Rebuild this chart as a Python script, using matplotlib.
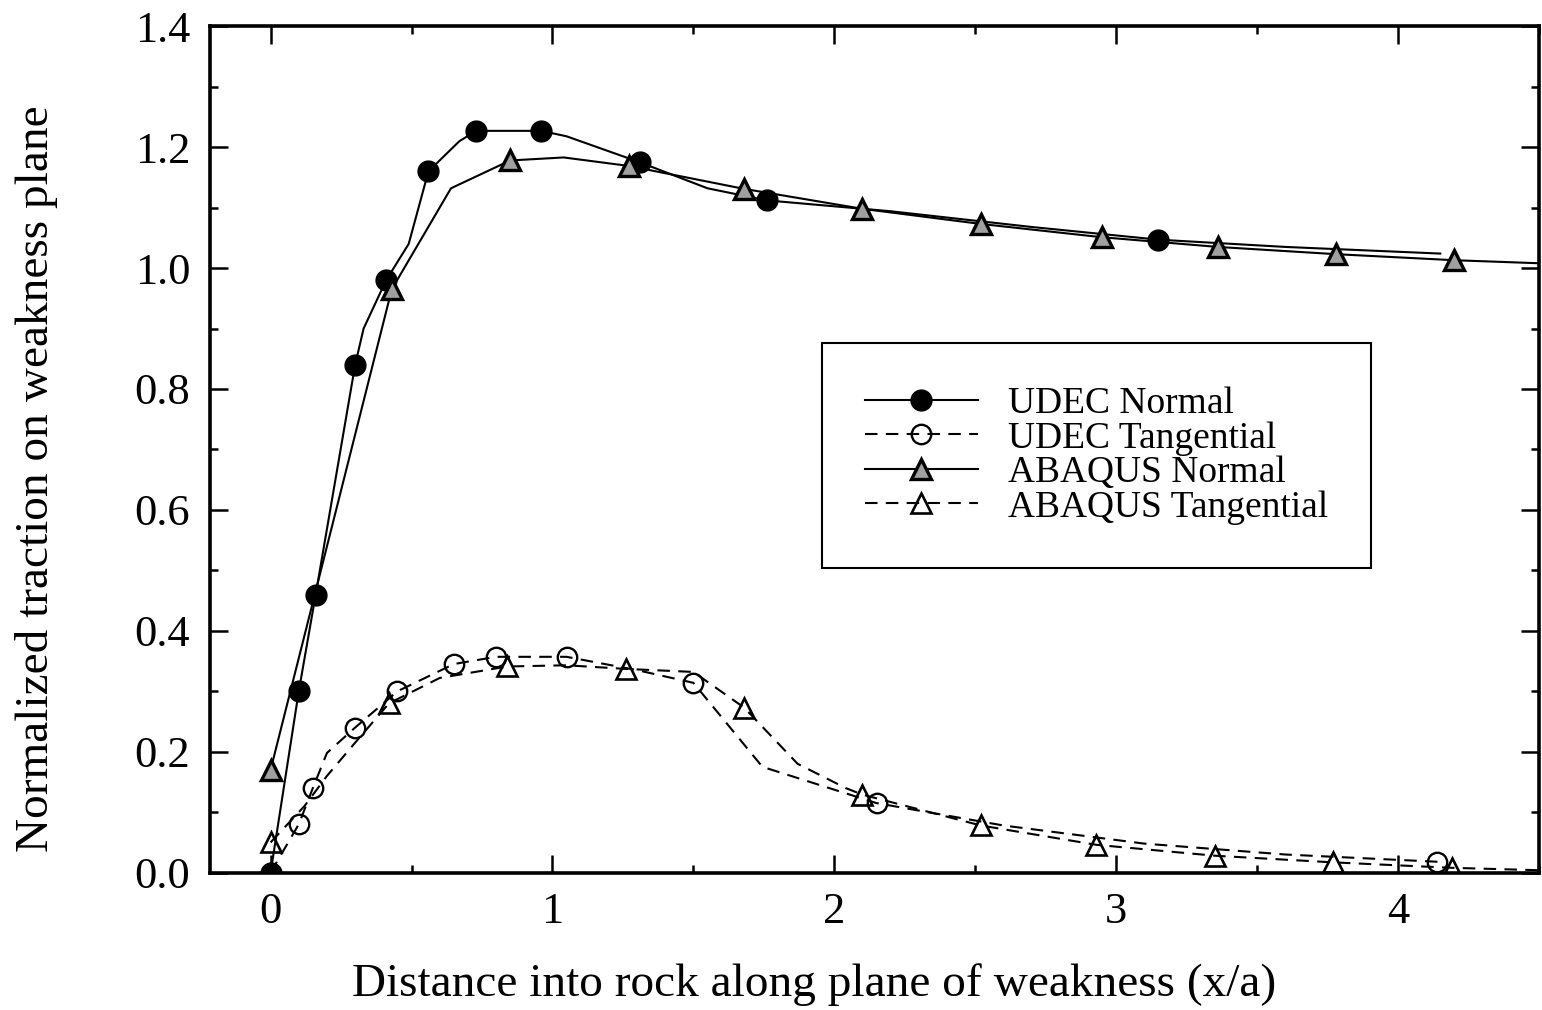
import numpy as np
import matplotlib
matplotlib.use("Agg")
import matplotlib.pyplot as plt
from matplotlib.ticker import MultipleLocator, FormatStrFormatter

plt.rcParams['font.family'] = ['Liberation Serif', 'DejaVu Serif']

# ---- traction profiles along the weakness plane (x/a, normalized traction) ----
# line vertices; the *_marks lists pick which vertices carry a symbol
udec_normal_x = [0.0, 0.10, 0.16, 0.30, 0.33, 0.41, 0.49, 0.56, 0.67, 0.73, 0.96, 1.05,
                 1.31, 1.55, 1.76, 2.20, 2.70, 3.15, 3.60, 4.15]
udec_normal_y = [0.0, 0.30, 0.46, 0.84, 0.90, 0.98, 1.04, 1.16, 1.21, 1.227, 1.227, 1.218,
                 1.175, 1.132, 1.112, 1.094, 1.068, 1.047, 1.035, 1.024]
udec_normal_marks = [0, 1, 2, 3, 5, 7, 9, 10, 12, 14, 17]

udec_tang_x = [0.0, 0.10, 0.15, 0.20, 0.30, 0.45, 0.65, 0.80, 1.05, 1.30, 1.50, 1.745,
               2.15, 2.60, 3.10, 3.60, 4.14]
udec_tang_y = [0.0, 0.08, 0.14, 0.198, 0.24, 0.30, 0.345, 0.357, 0.357, 0.335, 0.314, 0.175,
               0.115, 0.078, 0.048, 0.030, 0.018]
udec_tang_marks = [0, 1, 2, 4, 5, 6, 7, 8, 10, 12, 16]

abaqus_normal_x = [0.0, 0.43, 0.64, 0.85, 1.04, 1.27, 1.68, 2.10, 2.52, 2.95, 3.36, 3.78,
                   4.20, 4.50]
abaqus_normal_y = [0.17, 0.965, 1.132, 1.178, 1.183, 1.169, 1.131, 1.098, 1.073, 1.051,
                   1.035, 1.023, 1.013, 1.008]
abaqus_normal_marks = [0, 1, 3, 5, 6, 7, 8, 9, 10, 11, 12]

abaqus_tang_x = [0.0, 0.12, 0.20, 0.30, 0.42, 0.60, 0.84, 1.05, 1.26, 1.50, 1.68, 1.87,
                 2.04, 2.10, 2.52, 2.93, 3.35, 3.77, 4.19, 4.50]
abaqus_tang_y = [0.05, 0.11, 0.16, 0.215, 0.28, 0.322, 0.341, 0.343, 0.337, 0.332, 0.273,
                 0.180, 0.140, 0.129, 0.078, 0.046, 0.028, 0.017, 0.008, 0.004]
abaqus_tang_marks = [0, 4, 6, 8, 10, 13, 14, 15, 16, 17, 18]

x_label = "Distance into rock along plane of weakness (x/a)"
y_label = "Normalized traction on weakness plane"


def main():
    fig = plt.figure(figsize=(15.42, 10.10), dpi=100)
    ax = fig.add_axes([0.136, 0.136, 0.862, 0.838])

    dash = (0, (6, 4))
    lw = 1.5

    ax.plot(udec_normal_x, udec_normal_y, color='black', lw=lw, marker='o',
            markevery=udec_normal_marks, ms=15, mfc='black', mec='black',
            label='UDEC Normal', zorder=4)
    ax.plot(udec_tang_x, udec_tang_y, color='black', lw=lw, ls=dash, marker='o',
            markevery=udec_tang_marks, ms=14, mfc='none', mec='black', mew=1.7,
            label='UDEC Tangential', zorder=3)
    ax.plot(abaqus_normal_x, abaqus_normal_y, color='black', lw=lw, marker='^',
            markevery=abaqus_normal_marks, ms=14, mfc='#a0a0a0', mec='black', mew=2.4,
            label='ABAQUS Normal', zorder=5)
    ax.plot(abaqus_tang_x, abaqus_tang_y, color='black', lw=lw, ls=dash, marker='^',
            markevery=abaqus_tang_marks, ms=14, mfc='none', mec='black', mew=1.9,
            label='ABAQUS Tangential', zorder=3)

    ax.set_xlim(-0.216, 4.5)
    ax.set_ylim(0.0, 1.4)

    ax.xaxis.set_major_locator(MultipleLocator(1))
    ax.xaxis.set_minor_locator(MultipleLocator(0.5))
    ax.yaxis.set_major_locator(MultipleLocator(0.2))
    ax.yaxis.set_minor_locator(MultipleLocator(0.1))
    ax.yaxis.set_major_formatter(FormatStrFormatter('%.1f'))

    ax.tick_params(which='both', direction='in', top=True, right=True, width=1.8,
                   labelsize=32)
    ax.tick_params(which='major', length=13)
    ax.tick_params(which='minor', length=6)
    ax.tick_params(axis='x', pad=14)
    ax.tick_params(axis='y', pad=14)

    for s in ax.spines.values():
        s.set_linewidth(2.6)

    ax.set_xlabel(x_label, fontsize=34, va='center')
    ax.xaxis.set_label_coords(0.4545, -0.132)
    ax.set_ylabel(y_label, fontsize=34, va='center')
    ax.yaxis.set_label_coords(-0.130, 0.466)

    leg = ax.legend(loc='upper left', bbox_to_anchor=(0.533, 0.660),
                    bbox_transform=fig.transFigure, fontsize=27, frameon=True,
                    fancybox=False, edgecolor='black', handlelength=3.0,
                    handletextpad=0.8, labelspacing=0.0, borderpad=1.15,
                    borderaxespad=0.0)
    leg.get_frame().set_linewidth(1.5)
    leg.get_frame().set_alpha(1.0)

    fig.savefig("out.png", dpi=100)


if __name__ == "__main__":
    main()
